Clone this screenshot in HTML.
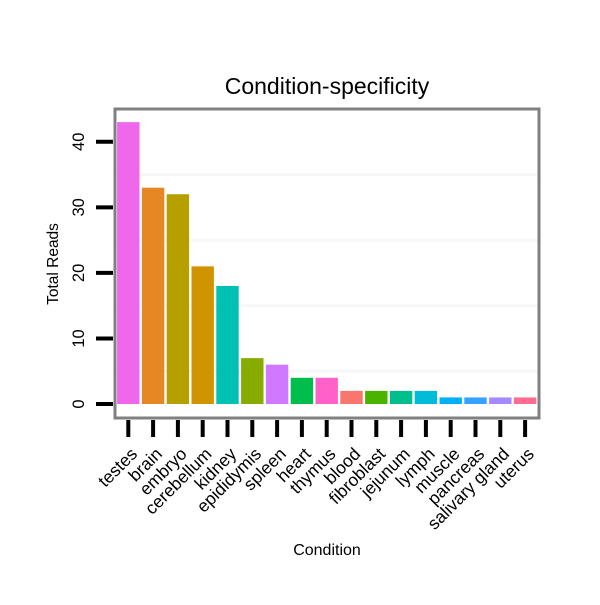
<!DOCTYPE html>
<html><head><meta charset="utf-8"><style>
html,body{margin:0;padding:0;background:#fff;}
svg text{font-family:"Liberation Sans",sans-serif;}
</style></head><body>
<svg id="chart" width="600" height="600" xmlns="http://www.w3.org/2000/svg">
<rect width="600" height="600" fill="#fff"/>
<text x="327" y="94" font-size="23" text-anchor="middle">Condition-specificity</text>
<text x="327" y="555" font-size="16" text-anchor="middle">Condition</text>
<text transform="translate(58,264) rotate(-90)" font-size="15.5" text-anchor="middle">Total Reads</text>
<g id="grid"></g><g id="bars"></g><g id="axes"></g>
<rect x="115" y="109" width="424" height="309" fill="none" stroke="#808080" stroke-width="3"/>
</svg>
<script>
const categories=["testes","brain","embryo","cerebellum","kidney","epididymis","spleen","heart","thymus","blood","fibroblast","jejunum","lymph","muscle","pancreas","salivary gland","uterus"];
const values=[43,33,32,21,18,7,6,4,4,2,2,2,2,1,1,1,1];
const colors=["#EF67EB","#E58722","#B5A000","#CF9400","#00C1B2","#88AB00","#D078FF","#00BE4C","#FF61C9","#F8766D","#4AB300","#00BF8C","#00BCD8","#00B0F6","#35A2FF","#A58AFF","#FF6C91"];
const yTicks=[0,10,20,30,40];
const yMinor=[5,15,25,35];
const NS="http://www.w3.org/2000/svg";
const y=v=>404-v*6.555;
const x=i=>128.3+i*24.8;
function mk(t,a,p){const e=document.createElementNS(NS,t);for(const k in a)e.setAttribute(k,a[k]);document.getElementById(p).appendChild(e);return e;}
yMinor.forEach(v=>{const l=mk("line",{x1:116,x2:538,y1:y(v),y2:y(v),stroke:"#f7f7f7","stroke-width":3},"grid");

});
values.forEach((v,i)=>{const r=mk("rect",{x:x(i)-11.2,y:y(v),width:22.4,height:404-y(v),fill:colors[i]},"bars");


const t=mk("line",{x1:x(i),x2:x(i),y1:420,y2:437,stroke:"#000","stroke-width":4},"axes");


const lb=mk("text",{transform:`translate(${x(i)+10},${455}) rotate(-45)`,"font-size":17.5,"text-anchor":"end"},"axes");
lb.textContent=categories[i];

});
yTicks.forEach(v=>{const t=mk("line",{x1:96,x2:113,y1:y(v),y2:y(v),stroke:"#000","stroke-width":4},"axes");


const lb=mk("text",{transform:`translate(84,${y(v)}) rotate(-90)`,"font-size":16.5,"text-anchor":"middle"},"axes");
lb.textContent=v;

});
</script>
</body></html>
